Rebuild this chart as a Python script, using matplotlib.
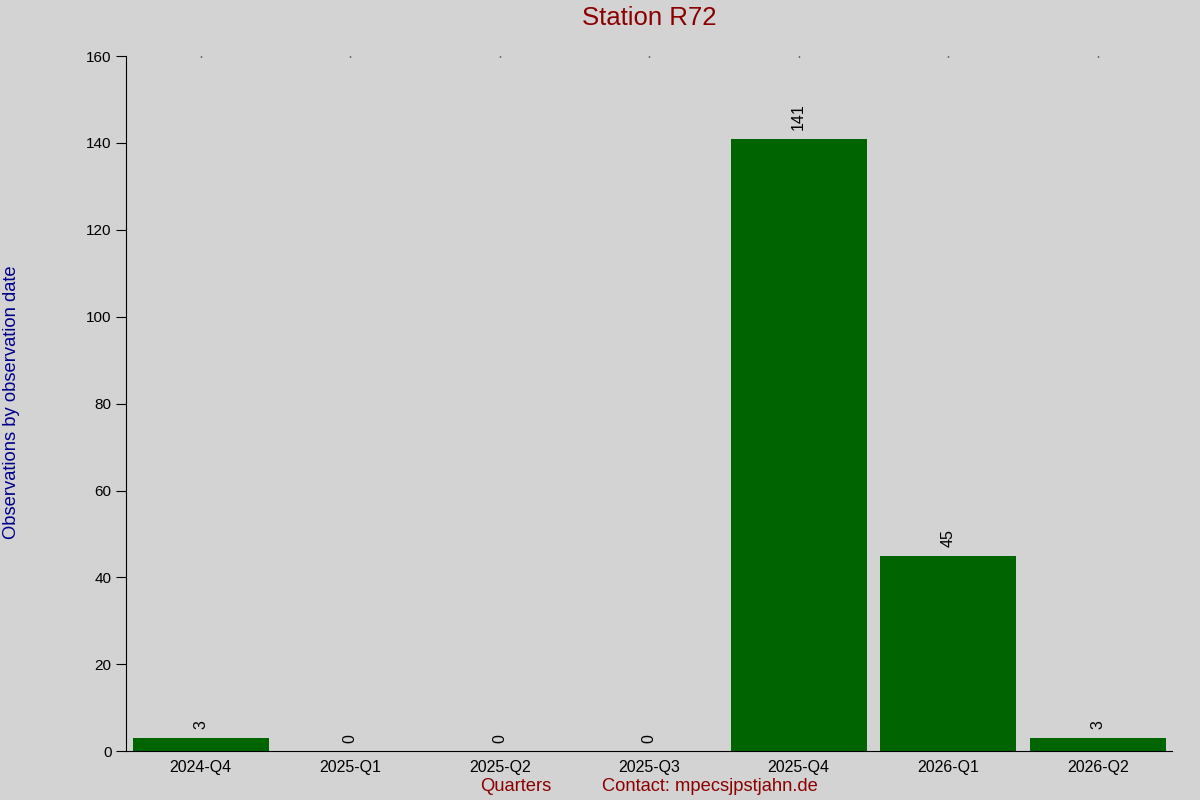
import matplotlib
matplotlib.use('Agg')
import matplotlib.pyplot as plt

quarters = ['2024-Q4', '2025-Q1', '2025-Q2', '2025-Q3', '2025-Q4', '2026-Q1', '2026-Q2']
counts = [3, 0, 0, 0, 141, 45, 3]
yticks = [0, 20, 40, 60, 80, 100, 120, 140, 160]

plt.rcParams['font.family'] = ['Liberation Sans', 'DejaVu Sans']
bg = '#d3d3d3'

fig = plt.figure(figsize=(12, 8), dpi=100, facecolor=bg)
ax = fig.add_axes([0.105, 0.061, 0.872, 0.869], facecolor=bg)

x = range(len(quarters))
ax.bar(x, counts, width=0.91, color='#006400')
for i, v in zip(x, counts):
    ax.text(i, v + 2, str(v), rotation=90, ha='center', va='bottom', fontsize=11.5)

ax.set_xlim(-0.5, len(quarters) - 0.5)
ax.set_ylim(0, 160)
ax.set_yticks(yticks)
ax.set_xticks(list(x))
ax.set_xticklabels(quarters)
ax.tick_params(axis='y', direction='out', length=7, labelsize=11)
ax.tick_params(axis='x', bottom=False, top=True, direction='in', length=1, width=1,
               labelsize=11.5, pad=6)
for s in ['top', 'right']:
    ax.spines[s].set_visible(False)

fig.text(0.541, 0.978, 'Station R72', ha='center', va='center', fontsize=18.5, color='#8b0000')
fig.text(0.01, 0.497, 'Observations by observation date', rotation=90, ha='center',
         va='center', fontsize=13.2, color='#00008b')
fig.text(0.43, 0.017, 'Quarters', ha='center', va='center', fontsize=13.2, color='#8b0000')
fig.text(0.592, 0.017, 'Contact: mpecsjpstjahn.de', ha='center', va='center', fontsize=13.2,
         color='#8b0000')

fig.savefig('out.png', dpi=100, facecolor=bg)
